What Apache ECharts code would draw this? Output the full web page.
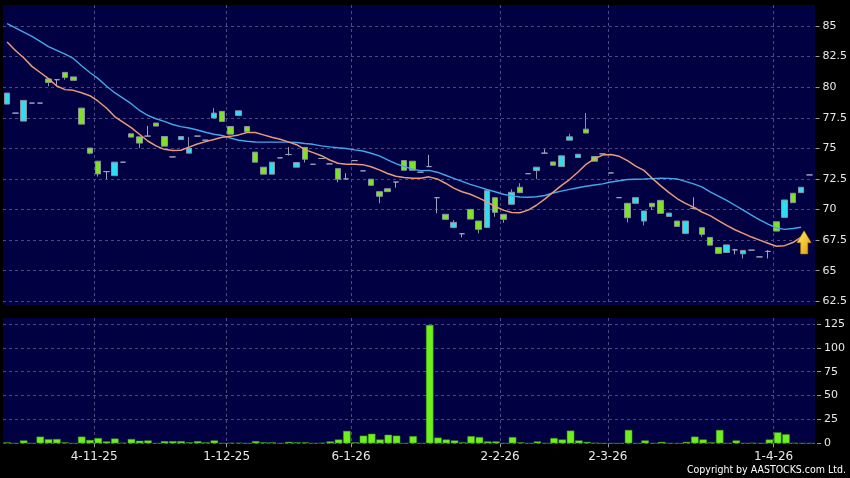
<!DOCTYPE html>
<html><head><meta charset="utf-8">
<script src="https://cdn.jsdelivr.net/npm/echarts@6/dist/echarts.min.js"></script>
<style>html,body{margin:0;padding:0;background:#000}#c{width:850px;height:478px}</style>
</head><body><div id="c"></div><script>
// ---- data ----
const tickLabels = ['4-11-25','1-12-25','6-1-26','2-2-26','2-3-26','1-4-26'];
const tickSlots  = [11, 27, 42, 60, 73, 93];

const open  = [79.52,77.88,78.92,78.70,78.70,80.39,80.61,80.80,80.56,76.98,
  74.61,72.91,73.10,73.87,73.87,75.92,75.43,76.00,76.82,75.18,
  74.30,75.97,75.02,76.00,75.67,77.88,77.20,76.16,78.07,76.38,
  73.87,72.89,73.87,74.22,74.50,73.84,74.11,73.70,74.17,73.73,
  72.48,72.50,74.00,73.16,71.98,71.08,71.46,72.25,73.21,73.21,
  73.05,73.51,70.97,69.20,68.95,68.02,69.22,68.38,71.54,69.77,
  69.20,71.41,71.38,72.93,73.46,74.61,73.62,74.39,75.94,74.52,
  76.25,73.95,74.55,72.99,70.97,69.33,70.97,69.88,70.23,69.69,
  69.71,68.62,69.06,70.10,67.97,67.09,66.41,67.11,66.70,66.66,
  66.68,66.13,66.58,68.24,70.78,70.56,71.82,72.83];
const close = [78.62,77.88,77.23,78.70,78.70,80.67,80.61,81.21,80.84,78.29,
  75.02,73.95,73.10,72.77,73.87,76.19,75.94,76.00,77.07,75.97,
  74.30,75.72,74.61,76.00,75.67,77.48,78.02,76.79,77.69,76.79,
  74.69,73.46,72.89,74.22,74.50,73.46,75.07,73.70,74.17,73.73,
  73.34,72.50,74.00,73.16,72.48,71.46,71.70,72.25,74.00,73.95,
  73.05,73.51,70.97,69.61,68.54,68.02,70.01,69.06,68.54,70.97,
  69.61,70.43,71.82,72.93,73.18,74.61,73.89,73.51,75.67,74.25,
  76.57,74.33,74.55,72.99,70.97,70.51,70.51,69.06,70.51,70.75,
  69.44,69.06,68.05,70.10,68.51,67.72,66.90,66.49,66.70,66.38,
  66.68,66.13,66.58,69.00,69.36,71.33,71.38,72.83];
const low   = [78.62,77.88,77.23,78.70,78.70,80.07,80.07,80.61,80.56,76.98,
  74.52,72.69,72.48,72.77,73.87,75.92,75.02,76.00,76.82,75.18,
  74.30,75.72,74.61,76.00,75.67,77.48,77.20,76.16,77.69,76.38,
  73.87,72.89,72.89,74.22,74.41,73.46,73.84,73.70,74.17,73.73,
  72.23,72.50,74.00,73.16,71.98,70.51,71.46,71.79,73.21,73.21,
  73.05,73.51,69.69,69.20,68.54,67.72,69.22,68.05,68.54,69.41,
  68.92,70.43,71.38,72.93,72.50,74.61,73.62,73.51,75.67,74.25,
  76.25,73.95,74.55,72.99,70.97,68.95,70.51,68.70,69.96,69.69,
  69.44,68.62,68.05,70.04,67.77,67.09,66.41,66.49,66.33,66.00,
  66.68,66.13,66.00,68.24,69.36,70.56,71.38,72.83];
const high  = [79.52,77.88,78.92,78.70,78.70,80.67,80.61,81.21,80.84,78.29,
  75.02,73.95,73.10,73.87,73.87,76.19,75.94,76.84,77.07,75.97,
  74.30,75.97,75.92,76.00,75.67,78.29,78.02,76.79,78.07,76.79,
  74.69,73.46,73.87,74.22,75.10,73.84,75.07,73.70,74.17,73.73,
  73.34,72.97,74.00,73.16,72.48,71.46,71.70,72.25,74.00,73.95,
  73.05,74.47,70.97,69.61,69.14,68.02,70.01,69.06,71.54,70.97,
  69.61,71.66,72.15,72.93,73.46,74.93,73.89,74.39,76.19,74.52,
  77.89,74.33,74.55,72.99,70.97,70.51,70.97,69.88,70.51,70.75,
  69.71,69.06,69.06,71.00,68.51,67.72,66.90,67.11,66.79,66.66,
  66.68,66.13,66.68,69.00,70.78,71.33,71.82,72.83];
const maShort = [83.7,83.0,82.4,81.7,81.2,80.7,80.1,79.8,79.74,79.55,
  79.3,78.85,78.3,77.6,77.15,76.7,76.15,75.6,75.2,74.92,
  74.82,74.85,75.1,75.35,75.55,75.72,75.9,75.98,76.1,76.3,
  76.3,76.1,75.9,75.75,75.53,75.3,74.9,74.65,74.4,74.05,
  73.78,73.7,73.7,73.67,73.5,73.24,72.95,72.72,72.62,72.56,
  72.56,72.67,72.5,72.15,71.75,71.45,71.25,70.95,70.62,70.25,
  69.95,69.75,69.74,69.95,70.35,70.85,71.4,71.95,72.45,73.05,
  73.7,74.15,74.45,74.5,74.35,74.0,73.55,73.2,72.55,71.95,
  71.4,70.9,70.5,70.2,69.8,69.5,69.1,68.7,68.35,68.05,
  67.75,67.5,67.25,67.0,67.05,67.3,67.75,null];
const maLong = [85.2,84.85,84.5,84.15,83.75,83.32,83.0,82.7,82.35,81.75,
  81.2,80.7,80.1,79.55,79.1,78.65,78.1,77.7,77.42,77.2,
  76.95,76.78,76.66,76.5,76.32,76.15,76.05,75.85,75.66,75.58,
  75.52,75.51,75.51,75.51,75.51,75.48,75.4,75.33,75.2,75.12,
  75.05,74.99,74.88,74.78,74.6,74.38,74.05,73.75,73.52,73.3,
  73.18,73.2,73.05,72.8,72.55,72.3,72.05,71.85,71.64,71.45,
  71.25,71.12,71.02,71.0,71.05,71.15,71.35,71.5,71.65,71.78,
  71.9,72.0,72.1,72.25,72.35,72.45,72.48,72.5,72.53,72.56,
  72.55,72.5,72.3,72.1,71.85,71.45,71.1,70.75,70.35,69.95,
  69.55,69.15,68.8,68.5,68.38,68.45,68.55,null];
const volume = [1,0,3,0,7,4.3,4.5,1,0,7,
  3.5,5.5,2,5,0.5,4.5,2.7,3,0,2.3,
  2.3,2.3,1,2.3,1,3,0,0.5,0.5,0,
  2.3,1,1,0,1.5,1,1,0,0.5,2,
  4,13,1,8,10,4,9,8,0,7.5,
  0,124,6,4,3,1,7.5,6.5,2,2,
  0,6.5,1,0,2,0,5.5,4,13.3,3,
  1.5,0.5,0,0,0,14,0,3,0,1.5,
  0,0,1.5,7,4,1,14,0,3,0,
  0.5,0,4,11.5,9.5,0.5,0,0];
const arrowValue = 67.32;

// ---- chart ----
const NAVY = '#000042';
const GRIDC = '#4a4a80';
const n = open.length;
const days = open.map((_, i) => 'd' + i);
const edges = Array.from({length: n + 1}, (_, i) => 'e' + i);
const isTick = (idx) => tickSlots.indexOf(idx) >= 0;
const dash = {color: GRIDC, width: 1, type: [3, 3]};
const candles = open.map((o, i) => [o, close[i], low[i], high[i]]);

const chart = echarts.init(document.getElementById('c'), null, {renderer: 'canvas'});
chart.setOption({
  backgroundColor: '#000',
  animation: false,
  grid: [
    {left: 3, right: 35, top: 5, height: 300, show: true, backgroundColor: NAVY, borderWidth: 0},
    {left: 3, right: 35, top: 26, height: 275.3},
    {left: 3, right: 35, top: 318, height: 125.3, show: true, backgroundColor: NAVY, borderWidth: 0},
    {left: 3, right: 35, top: 324, height: 119.3}
  ],
  xAxis: [
    {gridIndex: 0, type: 'category', data: edges, boundaryGap: false,
     axisLine: {show: false}, axisTick: {show: false}, axisLabel: {show: false},
     splitLine: {show: true, interval: (i) => isTick(i), lineStyle: dash}},
    {gridIndex: 1, type: 'category', data: days, boundaryGap: true, show: false},
    {gridIndex: 2, type: 'category', data: edges, boundaryGap: false, offset: 2,
     axisLine: {show: false},
     axisTick: {show: true, interval: (i) => isTick(i), length: 4, lineStyle: {color: '#9a9aa8'}},
     axisLabel: {show: true, interval: (i) => isTick(i), margin: 6, color: '#e8e8e8',
       fontFamily: 'DejaVu Sans', fontSize: 12,
       formatter: (v, i) => { const k = tickSlots.indexOf(i); return k >= 0 ? tickLabels[k] : ''; }},
     splitLine: {show: true, interval: (i) => isTick(i), lineStyle: dash}},
    {gridIndex: 3, type: 'category', data: days, boundaryGap: true, show: false}
  ],
  yAxis: [
    {gridIndex: 0, type: 'value', show: false, splitLine: {show: false}},
    {gridIndex: 1, type: 'value', position: 'right', min: 62.5, max: 85, interval: 2.5, offset: 2,
     axisLine: {show: false},
     axisTick: {show: true, length: 4, lineStyle: {color: '#9a9aa8'}},
     axisLabel: {margin: 7, color: '#e8e8e8', fontFamily: 'DejaVu Sans', fontSize: 11},
     splitLine: {show: true, lineStyle: dash}},
    {gridIndex: 2, type: 'value', show: false, splitLine: {show: false}},
    {gridIndex: 3, type: 'value', position: 'right', min: 0, max: 125, interval: 25, offset: 2,
     axisLine: {show: false},
     axisTick: {show: true, length: 4, lineStyle: {color: '#9a9aa8'}},
     axisLabel: {margin: 7, color: '#e8e8e8', fontFamily: 'DejaVu Sans', fontSize: 11},
     splitLine: {show: true, lineStyle: dash}}
  ],
  series: [
    {type: 'line', xAxisIndex: 1, yAxisIndex: 1, data: maLong, symbol: 'none', clip: false,
     lineStyle: {color: '#45a6ea', width: 1.4}},
    {type: 'line', xAxisIndex: 1, yAxisIndex: 1, data: maShort, symbol: 'none', clip: false,
     lineStyle: {color: '#eb9a78', width: 1.5}},
    {type: 'candlestick', xAxisIndex: 1, yAxisIndex: 1, data: candles, barWidth: 6, clip: false,
     itemStyle: {color: '#7ee226', color0: '#30dcef', borderColor: '#8a93a0', borderColor0: '#8a93a0',
       borderColorDoji: '#9ea4b8', borderWidth: 1},
     markPoint: {
       silent: true,
       data: [{coord: [days[n - 2], arrowValue], symbolOffset: [3, 0]}],
       symbol: 'path://M72,0 L144,120 L109,120 L109,233 L37,233 L37,120 L0,120 Z',
       symbolSize: [14.4, 23.3],
       label: {show: false},
       itemStyle: {color: {type: 'linear', x: 0, y: 0, x2: 1, y2: 1,
         colorStops: [{offset: 0, color: '#fff36a'}, {offset: 1, color: '#e09a00'}]},
         borderColor: '#b07800', borderWidth: 0.5}
     }},
    {type: 'bar', xAxisIndex: 3, yAxisIndex: 3, data: volume, barWidth: 7.5,
     itemStyle: {color: '#6ef01e', borderColor: '#3f8a18', borderWidth: 0.5}}
  ],
  graphic: [
    {type: 'text', right: 4, top: 465,
     style: {text: 'Copyright by AASTOCKS.com Ltd.', fill: '#ffffff',
       font: '10.5px "DejaVu Sans Condensed", "DejaVu Sans"'}}
  ]
});
</script></body></html>
